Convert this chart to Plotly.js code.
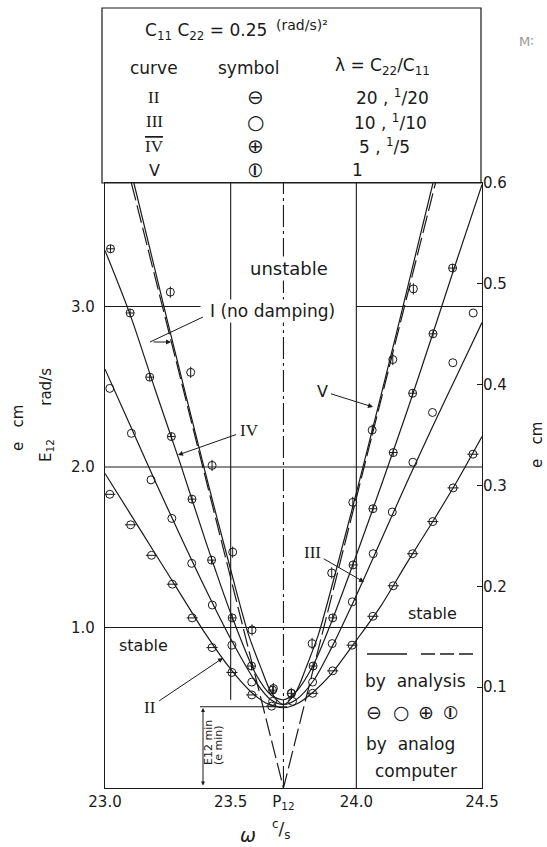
<!DOCTYPE html>
<html><head><meta charset="utf-8">
<script src="https://cdn.plot.ly/plotly-3.0.1.min.js"></script>
<style>html,body{margin:0;padding:0;background:#fff;} #chart{width:547px;height:847px;}</style>
</head><body><div id="chart"></div>
<script>
// ---------- data ----------
const P12 = 23.71;
const xTickVals = [23.0, 23.5, P12, 24.0, 24.5];
const xTickText = ['23.0', '23.5', 'P<sub>12</sub>', '24.0', '24.5'];
const yTickVals = [1, 2, 3];
const yTickText = ['1.0', '2.0', '3.0'];
const y2TickVals = [0.1, 0.2, 0.3, 0.4, 0.5, 0.6];
const y2TickText = ['0.1', '0.2', '0.3', '0.4', '0.5', '0.6'];

// curve I, no damping (dashed)
const noDampW = [23.105, P12, 24.315];
const noDampE = [3.77, 0.0, 3.77];

// analysis curves (solid)
const lineIIw  = [23.0, 23.1, 23.2, 23.3, 23.4, 23.5, 23.58, 23.64, 23.71, 23.77, 23.83, 23.9, 24.0, 24.1, 24.2, 24.3, 24.4, 24.5];
const lineIIe  = [1.96, 1.71, 1.46, 1.21, 0.96, 0.74, 0.60, 0.53, 0.50, 0.53, 0.60, 0.71, 0.92, 1.14, 1.40, 1.65, 1.91, 2.19];
const lineIIIw = [23.0, 23.1, 23.2, 23.3, 23.4, 23.5, 23.6, 23.66, 23.71, 23.76, 23.83, 23.9, 24.0, 24.1, 24.2, 24.3, 24.4, 24.5];
const lineIIIe = [2.61, 2.26, 1.91, 1.57, 1.24, 0.93, 0.66, 0.55, 0.52, 0.55, 0.67, 0.87, 1.20, 1.55, 1.90, 2.24, 2.57, 2.90];
const lineIVw  = [23.0, 23.1, 23.2, 23.3, 23.4, 23.5, 23.6, 23.66, 23.71, 23.76, 23.83, 23.9, 24.0, 24.1, 24.2, 24.3, 24.4, 24.5];
const lineIVe  = [3.35, 2.95, 2.48, 2.02, 1.54, 1.09, 0.71, 0.58, 0.55, 0.60, 0.77, 1.03, 1.45, 1.89, 2.34, 2.81, 3.29, 3.76];
const lineVw   = [23.115, 23.25, 23.40, 23.50, 23.57, 23.62, 23.66, 23.71, 23.76, 23.80, 23.85, 23.92, 24.02, 24.17, 24.305];
const lineVe   = [3.77, 2.90, 1.96, 1.36, 0.96, 0.75, 0.60, 0.52, 0.60, 0.75, 0.96, 1.36, 1.96, 2.90, 3.77];

// analog computer points
const ptsIIw  = [23.019, 23.102, 23.185, 23.268, 23.347, 23.426, 23.505, 23.584, 23.663, 23.826, 23.906, 23.983, 24.066, 24.147, 24.224, 24.304, 24.385, 24.464];
const ptsIIe  = [1.83, 1.64, 1.45, 1.27, 1.06, 0.875, 0.72, 0.58, 0.51, 0.59, 0.73, 0.89, 1.07, 1.26, 1.46, 1.66, 1.87, 2.08];
const ptsIIIw = [23.019, 23.105, 23.183, 23.266, 23.345, 23.427, 23.505, 23.584, 23.667, 23.746, 23.826, 23.904, 23.984, 24.067, 24.143, 24.225, 24.303, 24.384, 24.465];
const ptsIIIe = [2.49, 2.21, 1.92, 1.68, 1.40, 1.14, 0.89, 0.66, 0.54, 0.54, 0.66, 0.90, 1.16, 1.46, 1.72, 2.03, 2.34, 2.65, 2.96];
const ptsIVw  = [23.022, 23.100, 23.178, 23.264, 23.346, 23.424, 23.506, 23.583, 23.667, 23.742, 23.828, 23.906, 23.987, 24.066, 24.147, 24.224, 24.305, 24.383];
const ptsIVe  = [3.36, 2.96, 2.56, 2.19, 1.80, 1.42, 1.06, 0.76, 0.61, 0.59, 0.76, 1.06, 1.39, 1.74, 2.09, 2.46, 2.83, 3.24];
const ptsVw   = [23.260, 23.341, 23.426, 23.508, 23.585, 23.670, 23.741, 23.824, 23.902, 23.986, 24.063, 24.145, 24.227];
const ptsVe   = [3.09, 2.59, 2.01, 1.47, 0.985, 0.62, 0.59, 0.90, 1.34, 1.78, 2.23, 2.67, 3.11];

const E12min = 0.506;

// ---------- layout helpers ----------
const W = 547, H = 847, L = 105, R = 482, T = 183, B = 788;
const px = x => (x - L) / (R - L);
const py = y => (B - y) / (B - T);
const ink = '#1a1a1a';
const FONT = 'DejaVu Sans';
const ROMAN = 'Liberation Serif';
const EMAX = 0.6 * 2 * Math.PI;

function lineTrace(x, y, dash) {
  return {type: 'scatter', mode: 'lines', x: x, y: y, xaxis: 'x', yaxis: 'y',
    line: {color: ink, width: 1.2, shape: 'spline', smoothing: 0.8, dash: dash || 'solid'},
    hoverinfo: 'skip', showlegend: false};
}
function markTrace(x, y, sym, size) {
  return {type: 'scatter', mode: 'markers', x: x, y: y, xaxis: 'x', yaxis: 'y',
    marker: {symbol: sym, size: size || 8, color: ink, line: {width: 1, color: ink}},
    hoverinfo: 'skip', showlegend: false};
}

const traces = [
  {type: 'scatter', mode: 'lines', x: noDampW, y: noDampE, line: {color: ink, width: 1.2, dash: '18px,5px'}, hoverinfo: 'skip', showlegend: false},
  lineTrace(lineIIw, lineIIe), lineTrace(lineIIIw, lineIIIe), lineTrace(lineIVw, lineIVe), lineTrace(lineVw, lineVe),
  markTrace(ptsIIw, ptsIIe, 'circle-open'), markTrace(ptsIIw, ptsIIe, 'line-ew-open'),
  markTrace(ptsIIIw, ptsIIIe, 'circle-open'),
  markTrace(ptsIVw, ptsIVe, 'circle-cross-open'),
  markTrace(ptsVw, ptsVe, 'circle-open'), markTrace(ptsVw, ptsVe, 'line-ns-open'),
  {type: 'scatter', mode: 'markers', x: [23.0], y: [0], yaxis: 'y2', marker: {opacity: 0}, hoverinfo: 'skip', showlegend: false}
];

function txt(x, y, text, size, extra) {
  return Object.assign({xref: 'paper', yref: 'paper', x: px(x), y: py(y), text: text, showarrow: false,
    xanchor: 'center', yanchor: 'middle', font: {family: FONT, size: size || 17, color: ink}}, extra || {});
}
function rom(x, y, text, size) {
  return txt(x, y, text, size, {font: {family: ROMAN, size: size, color: ink}});
}
function arrow(xt, yt, xs, ys, text, size, fam) {
  return {xref: 'paper', yref: 'paper', x: px(xt), y: py(yt), ax: xs - xt, ay: ys - yt, text: text,
    showarrow: true, arrowhead: 2, arrowsize: 1, arrowwidth: 1, arrowcolor: ink, standoff: 0, startstandoff: 2,
    font: {family: fam || FONT, size: size || 17, color: ink}};
}

const annotations = [
  // header table
  txt(206, 31, 'C<sub>11</sub> C<sub>22</sub> = 0.25', 17),
  txt(302, 25, '(rad/s)²', 14),
  txt(154, 68, 'curve', 17), txt(248, 68, 'symbol', 17), txt(382, 66, 'λ = C<sub>22</sub>/C<sub>11</sub>', 17),
  rom(154, 97, 'II', 17), rom(154, 122, 'III', 17), rom(154, 146, '<span style="text-decoration:overline">IV</span>', 17), txt(154, 170, 'V', 16),
  txt(255, 97, '⊖', 20), txt(255, 122, '○', 20), txt(255, 146, '⊕', 20), txt(255, 170, '⦶', 20),
  txt(392, 97, '20 , <sup>1</sup>/20', 17), txt(390, 122, '10 , <sup>1</sup>/10', 17), txt(384, 146, '5 , <sup>1</sup>/5', 17),
  txt(357, 170, '1', 17),
  txt(526, 42, 'M∶', 13, {font: {family: FONT, size: 13, color: '#999'}}),
  // plot labels
  txt(289, 268, 'unstable', 18, {bgcolor: '#fff'}),
  txt(272, 311, 'I (no damping)', 17, {bgcolor: '#fff'}),
  txt(143, 645, 'stable', 16), txt(432, 613, 'stable', 16),
  arrow(178, 455, 249, 430, 'IV', 17, ROMAN),
  arrow(373, 407, 322, 391, 'V', 16),
  arrow(364, 582, 312, 552, 'III', 17, ROMAN),
  arrow(223, 658, 150, 707, 'II', 17, ROMAN),
  arrow(171, 342, 150, 342, ''),
  // E12 min
  {xref: 'paper', yref: 'paper', x: px(203), y: py(708), ax: 0, ay: 79, text: '', showarrow: true, arrowhead: 2,
   arrowside: 'end+start', arrowsize: 0.8, arrowwidth: 1, arrowcolor: ink, standoff: 0, startstandoff: 0},
  txt(208, 743, 'E12 min', 11, {textangle: -90}),
  txt(218, 745, '(e min)', 11, {textangle: -90}),
  // legend box
  txt(415, 681, 'by  analysis', 17),
  txt(374, 712, '⊖', 19), txt(401, 712, '○', 19), txt(426, 712, '⊕', 19), txt(451, 712, '⦶', 19),
  txt(410, 744, 'by  analog', 17),
  txt(416, 771, 'computer', 17),
  // axis titles
  txt(248, 835, '<i>ω</i>', 19),
  txt(281, 829, '<sup>c</sup>/<sub>s</sub>', 17),
  txt(46, 415, 'E<sub>12</sub>       rad/s', 15, {textangle: -90}),
  txt(18, 428, 'e   cm', 15, {textangle: -90}),
  txt(537, 445, 'e   cm', 15, {textangle: -90})
];

const lineSty = {color: ink, width: 1.1};
const shapes = [
  // header box
  {type: 'rect', xref: 'paper', yref: 'paper', x0: px(102), x1: px(481), y0: 1, y1: py(8), line: {color: ink, width: 1.2}},
  // grid
  {type: 'line', xref: 'x', yref: 'y', x0: 23.0, x1: 24.5, y0: 1, y1: 1, line: lineSty},
  {type: 'line', xref: 'x', yref: 'y', x0: 23.0, x1: 24.5, y0: 2, y1: 2, line: lineSty},
  {type: 'line', xref: 'x', yref: 'y', x0: 23.0, x1: 23.38, y0: 3, y1: 3, line: lineSty},
  {type: 'line', xref: 'x', yref: 'y', x0: 24.0, x1: 24.5, y0: 3, y1: 3, line: lineSty},
  {type: 'line', xref: 'x', yref: 'y', x0: 23.5, x1: 23.5, y0: 0.55, y1: EMAX, line: lineSty},
  {type: 'line', xref: 'x', yref: 'y', x0: 24.0, x1: 24.0, y0: 0, y1: EMAX, line: lineSty},
  {type: 'line', xref: 'x', yref: 'y', x0: P12, x1: P12, y0: 0, y1: EMAX, line: {color: ink, width: 1.1, dash: '22px,4px,3px,4px'}},
  // E12 min level
  {type: 'line', xref: 'paper', yref: 'y', x0: px(200), x1: px(287), y0: E12min, y1: E12min, line: lineSty},
  // I (no damping) leader
  {type: 'line', xref: 'paper', yref: 'paper', x0: px(203), y0: py(317), x1: px(150), y1: py(342), line: {color: ink, width: 1}},
  // legend keys
  {type: 'line', xref: 'paper', yref: 'paper', x0: px(367), x1: px(407), y0: py(654), y1: py(654), line: {color: ink, width: 1.3}},
  {type: 'line', xref: 'paper', yref: 'paper', x0: px(421), x1: px(473), y0: py(654), y1: py(654), line: {color: ink, width: 1.3, dash: '14px,5px'}}
];

const layout = {
  width: W, height: H, paper_bgcolor: '#fff', plot_bgcolor: '#fff',
  margin: {l: L, r: W - R, t: T, b: H - B, pad: 0},
  showlegend: false,
  font: {family: FONT, color: ink},
  xaxis: {range: [23.0, 24.5], tickvals: xTickVals, ticktext: xTickText, ticks: '', showgrid: false, zeroline: false,
    showline: true, mirror: true, linecolor: ink, linewidth: 1.2, tickfont: {family: FONT, size: 15, color: ink}},
  yaxis: {range: [0, EMAX], tickvals: yTickVals, ticktext: yTickText, ticks: '', showgrid: false, zeroline: false,
    showline: true, mirror: true, linecolor: ink, linewidth: 1.2, ticklabelstandoff: 6, tickfont: {family: FONT, size: 15, color: ink}},
  yaxis2: {range: [0, 0.6], overlaying: 'y', side: 'right', tickvals: y2TickVals, ticktext: y2TickText, ticks: 'inside',
    ticklen: 5, tickcolor: ink, showgrid: false, zeroline: false, showline: false, tickfont: {family: FONT, size: 15, color: ink}},
  shapes: shapes,
  annotations: annotations
};

Plotly.newPlot('chart', traces, layout, {staticPlot: true});
</script></body></html>
